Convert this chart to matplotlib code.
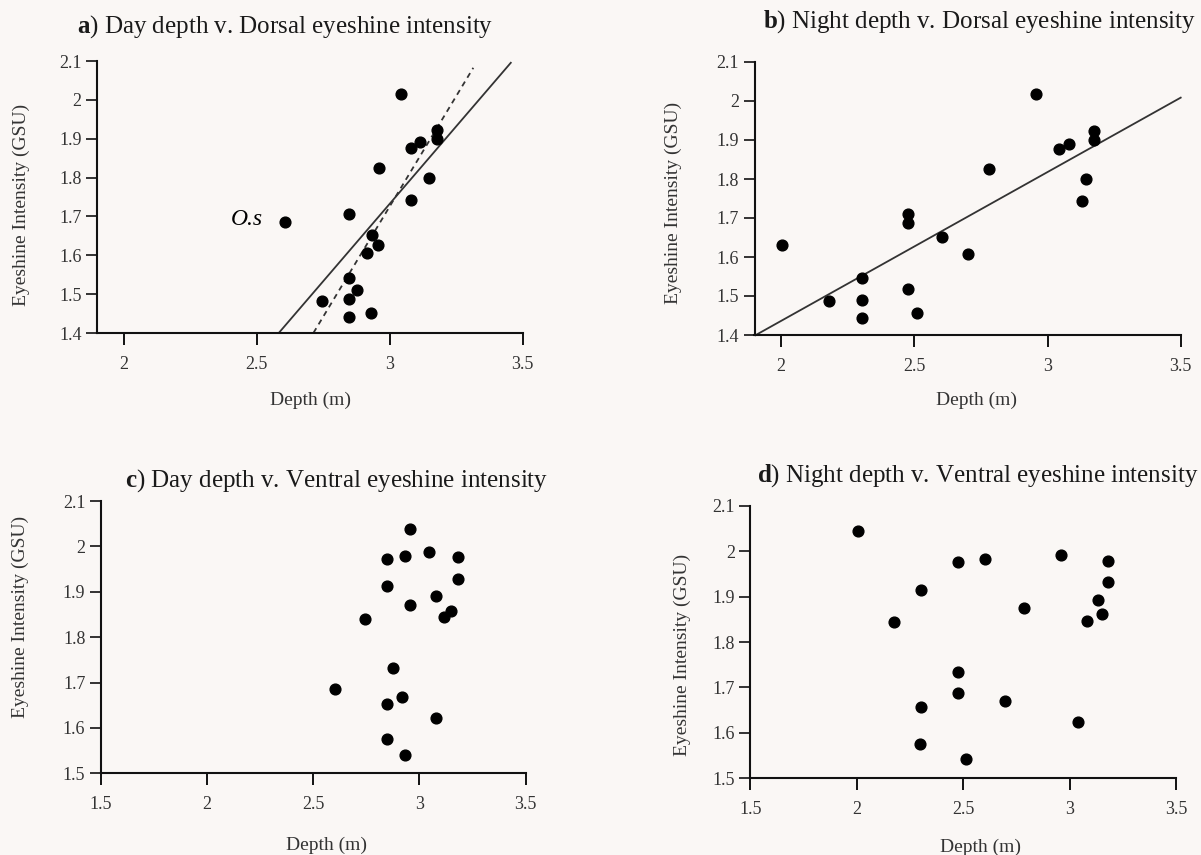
import matplotlib.pyplot as plt
from matplotlib.ticker import FuncFormatter
import numpy as np

plt.rcParams['font.family'] = ['Liberation Serif', 'DejaVu Serif']
plt.rcParams['mathtext.fontset'] = 'custom'
plt.rcParams['mathtext.rm'] = 'Liberation Serif'
plt.rcParams['mathtext.bf'] = 'Liberation Serif:bold'

# dorsal eyeshine intensity (GSU) v. day depth (m)
day_depth_dorsal = [3.044, 3.177, 3.177, 3.115, 3.080, 2.959, 3.150, 3.080, 2.849, 2.606,
                    2.933, 2.957, 2.916, 2.849, 2.876, 2.745, 2.849, 2.930, 2.849]
dorsal_day = [2.016, 1.922, 1.899, 1.891, 1.876, 1.825, 1.799, 1.743, 1.706, 1.685,
              1.651, 1.626, 1.606, 1.542, 1.511, 1.483, 1.488, 1.451, 1.442]

# dorsal eyeshine intensity v. night depth
night_depth_dorsal = [2.955, 3.175, 3.175, 3.080, 3.042, 2.780, 3.145, 3.131, 2.478, 2.478,
                      2.004, 2.603, 2.700, 2.302, 2.477, 2.178, 2.302, 2.511, 2.302]
dorsal_night = [2.017, 1.923, 1.900, 1.890, 1.876, 1.826, 1.801, 1.744, 1.709, 1.688,
                1.630, 1.652, 1.608, 1.545, 1.517, 1.487, 1.491, 1.456, 1.444]

# ventral eyeshine intensity v. day depth
day_depth_ventral = [2.955, 3.045, 2.934, 2.849, 3.181, 3.181, 2.847, 3.080, 2.955, 3.150,
                     3.115, 2.743, 2.877, 2.605, 2.917, 2.847, 3.080, 2.847, 2.931]
ventral_day = [2.038, 1.988, 1.979, 1.972, 1.976, 1.929, 1.912, 1.891, 1.871, 1.858,
               1.844, 1.841, 1.731, 1.685, 1.668, 1.653, 1.621, 1.575, 1.540]

# ventral eyeshine intensity v. night depth
night_depth_ventral = [2.004, 2.960, 2.605, 2.477, 3.181, 3.181, 2.303, 3.135, 2.784, 3.151,
                       3.082, 2.177, 2.477, 2.477, 2.699, 2.301, 3.041, 2.299, 2.513]
ventral_night = [2.045, 1.991, 1.982, 1.976, 1.979, 1.932, 1.915, 1.893, 1.874, 1.862,
                 1.847, 1.845, 1.733, 1.687, 1.670, 1.656, 1.624, 1.576, 1.541]

# regression lines: (slope, intercept, x from, x to)
fit_day_all = (0.797, -0.659, 2.584, 3.456)      # solid
fit_day_no_os = (1.135, -1.680, 2.714, 3.315)    # dashed, O.s left out
fit_night = (0.3816, 0.673, 1.904, 3.5)

titles = ['a', 'b', 'c', 'd']
title_text = ['Day depth v. Dorsal eyeshine intensity',
              'Night depth v. Dorsal eyeshine intensity',
              'Day depth v. Ventral eyeshine intensity',
              'Night depth v. Ventral eyeshine intensity']

bg = '#faf7f5'
W, H = 1201, 855
fig = plt.figure(figsize=(W / 100, H / 100), dpi=100, facecolor=bg)

def px_axes(l, t, r, b):
    return fig.add_axes([l / W, 1 - b / H, (r - l) / W, (b - t) / H])

ax_a = px_axes(97, 61, 522.5, 333)
ax_b = px_axes(754.5, 62, 1180.7, 335)
ax_c = px_axes(100.6, 501, 525.7, 773.3)
ax_d = px_axes(750.2, 506, 1176, 778)

fmt = FuncFormatter(lambda v, p: '%g' % round(v, 2))

def style(ax, xlim, xticks, ylim, yticks):
    ax.set_facecolor(bg)
    ax.set_xlim(xlim)
    ax.set_ylim(ylim)
    ax.set_xticks(xticks)
    ax.set_yticks(yticks)
    ax.xaxis.set_major_formatter(fmt)
    ax.yaxis.set_major_formatter(fmt)
    for s in ['top', 'right']:
        ax.spines[s].set_visible(False)
    for s in ['left', 'bottom']:
        ax.spines[s].set_linewidth(1.5)
        ax.spines[s].set_color('#111111')
    ax.tick_params(axis='x', direction='out', length=8.5, width=1.4, pad=8,
                   labelsize=13, colors='#111111', labelcolor='#333333')
    ax.tick_params(axis='y', direction='out', length=8, width=1.2, pad=3,
                   labelsize=13, colors='#111111', labelcolor='#333333')

def dots(ax, x, y):
    ax.scatter(x, y, s=60, color='black', zorder=3, clip_on=False)

def fit(ax, f, **kw):
    m, b, x0, x1 = f
    xs = np.array([x0, x1])
    ax.plot(xs, m * xs + b, color='#333333', clip_on=False, **kw)

style(ax_a, (1.9, 3.5), [2, 2.5, 3, 3.5], (1.4, 2.1), np.arange(1.4, 2.15, 0.1))
dots(ax_a, day_depth_dorsal, dorsal_day)
fit(ax_a, fit_day_all, lw=1.3)
fit(ax_a, fit_day_no_os, lw=1.3, ls=(0, (3, 2.5)))
ax_a.text(2.465, 1.691, 'O.s', fontsize=17, style='italic', ha='center', va='center')

style(ax_b, (1.9, 3.5), [2, 2.5, 3, 3.5], (1.4, 2.1), np.arange(1.4, 2.15, 0.1))
dots(ax_b, night_depth_dorsal, dorsal_night)
fit(ax_b, fit_night, lw=1.3)

style(ax_c, (1.5, 3.5), [1.5, 2, 2.5, 3, 3.5], (1.5, 2.1), np.arange(1.5, 2.15, 0.1))
dots(ax_c, day_depth_ventral, ventral_day)

style(ax_d, (1.5, 3.5), [1.5, 2, 2.5, 3, 3.5], (1.5, 2.1), np.arange(1.5, 2.15, 0.1))
dots(ax_d, night_depth_ventral, ventral_night)

# titles
title_pos = [(285, 27), (979.5, 22), (336.7, 481), (977.6, 476)]
for k, txt, (x, y) in zip(titles, title_text, title_pos):
    fig.text(x / W, 1 - y / H, r'$\mathbf{%s}$) %s' % (k, txt), fontsize=18,
             ha='center', va='center', color='#1a1a1a')

# axis labels
xlab_pos = [(310, 400), (977, 400), (326, 845), (981, 847)]
ylab_pos = [(21, 205), (673, 203), (20, 617), (682, 655)]
for x, y in xlab_pos:
    fig.text(x / W, 1 - y / H, 'Depth (m)', fontsize=14, ha='center', va='center',
             color='#333333')
for x, y in ylab_pos:
    fig.text(x / W, 1 - y / H, 'Eyeshine Intensity (GSU)', fontsize=14, ha='center',
             va='center', rotation=90, color='#333333')

plt.savefig('out.png', dpi=100, facecolor=bg)
